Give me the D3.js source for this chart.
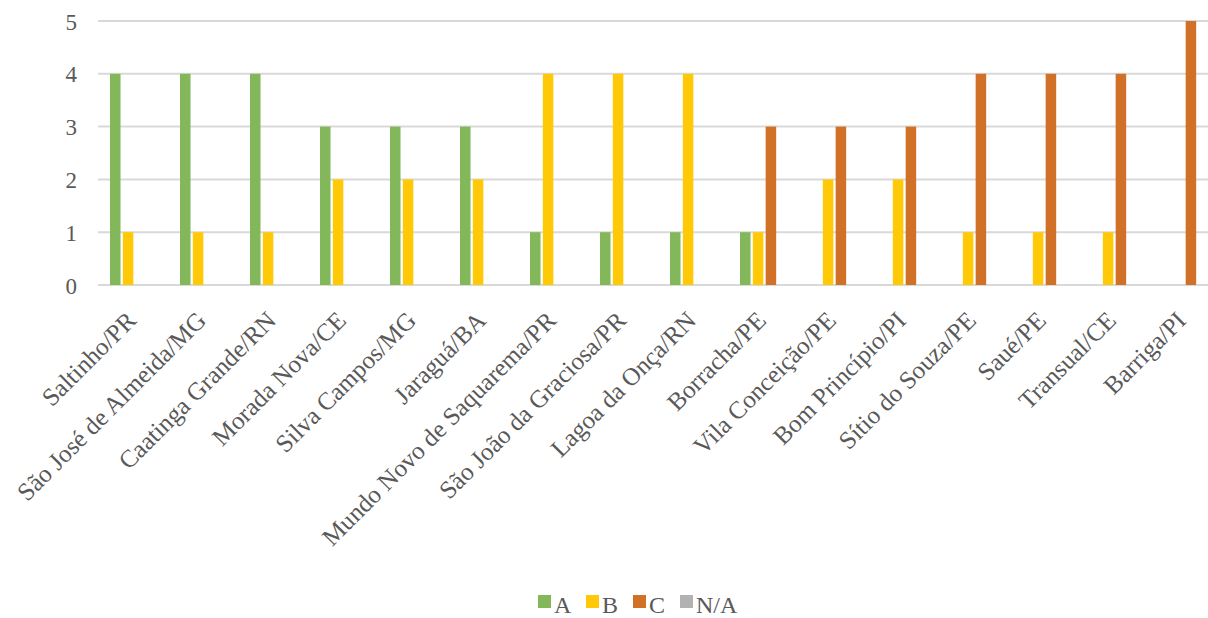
<!DOCTYPE html>
<html>
<head>
<meta charset="utf-8">
<script src="https://cdn.jsdelivr.net/npm/d3@7"></script>
<style>
  html, body { margin: 0; padding: 0; background: #fff; }
  svg { display: block; }
  text { font-family: "Liberation Serif", "DejaVu Serif", serif; fill: #595959; }
</style>
</head>
<body>
<svg id="chart" width="1208" height="618"></svg>
<script>
// Communities on the x axis
const categories = [
  "Saltinho/PR", "São José de Almeida/MG", "Caatinga Grande/RN", "Morada Nova/CE",
  "Silva Campos/MG", "Jaraguá/BA", "Mundo Novo de Saquarema/PR", "São João da Graciosa/PR",
  "Lagoa da Onça/RN", "Borracha/PE", "Vila Conceição/PE", "Bom Princípio/PI",
  "Sítio do Souza/PE", "Saué/PE", "Transual/CE", "Barriga/PI"
];
// Counts per class
const seriesNames = ["A", "B", "C", "N/A"];
const valuesA  = [4, 4, 4, 3, 3, 3, 1, 1, 1, 1, 0, 0, 0, 0, 0, 0];
const valuesB  = [1, 1, 1, 2, 2, 2, 4, 4, 4, 1, 2, 2, 1, 1, 1, 0];
const valuesC  = [0, 0, 0, 0, 0, 0, 0, 0, 0, 3, 3, 3, 4, 4, 4, 5];
const valuesNA = [0, 0, 0, 0, 0, 0, 0, 0, 0, 0, 0, 0, 0, 0, 0, 0];
const yTicks = [0, 1, 2, 3, 4, 5];
const colors = ["#82b75a", "#ffc907", "#d17127", "#b2b2b2"];

const seriesValues = [valuesA, valuesB, valuesC, valuesNA];
const rows = categories.map((c, i) => ({
  category: c,
  values: seriesNames.map((s, k) => ({ key: s, value: seriesValues[k][i], color: colors[k] }))
}));

const svg = d3.select("#chart");
const plot = { left: 99.5, right: 1219.5, top: 21, bottom: 285 };

const x0 = d3.scaleBand()
  .domain(categories)
  .range([plot.left, plot.right])
  .paddingInner(0.3)
  .paddingOuter(0.15);

const x1 = d3.scaleBand()
  .domain(seriesNames)
  .range([0, x0.bandwidth()])
  .paddingInner(0.18);

const y = d3.scaleLinear().domain([0, 5]).range([plot.bottom, plot.top]);

// Horizontal gridlines
svg.append("g")
  .selectAll("line")
  .data(yTicks)
  .join("line")
  .attr("x1", 98).attr("x2", 1208)
  .attr("y1", d => y(d)).attr("y2", d => y(d))
  .attr("stroke", "#d9d9d9")
  .attr("stroke-width", 2);

// Y axis labels
const yAxis = d3.axisLeft(y).tickValues(yTicks).tickSize(0).tickPadding(0).tickFormat(d3.format("d"));
svg.append("g")
  .attr("transform", "translate(77,0)")
  .call(yAxis)
  .call(g => g.select(".domain").remove())
  .call(g => g.selectAll("text")
    .attr("font-size", 23)
    .attr("dy", "0.35em")
    .style("font-family", "'Liberation Serif', serif")
    .attr("fill", "#595959"));

// Bars
const groups = svg.append("g")
  .selectAll("g")
  .data(rows)
  .join("g")
  .attr("transform", d => `translate(${x0(d.category)},0)`);

groups.selectAll("rect")
  .data(d => d.values.filter(v => v.value > 0))
  .join("rect")
  .attr("x", d => x1(d.key))
  .attr("width", x1.bandwidth())
  .attr("y", d => y(d.value))
  .attr("height", d => y(0) - y(d.value))
  .attr("fill", d => d.color);

// Category labels, rotated
const xAxis = d3.axisBottom(x0).tickSize(0).tickPadding(0);
svg.append("g")
  .attr("transform", `translate(0,${plot.bottom})`)
  .call(xAxis)
  .call(g => g.select(".domain").remove())
  .call(g => g.selectAll("text")
    .attr("font-size", 25)
    .attr("text-anchor", "end")
    .attr("dy", 0)
    .attr("y", 0)
    .attr("transform", "translate(3,37) rotate(-45)")
    .style("font-family", "'Liberation Serif', serif")
    .attr("fill", "#595959"));

// Legend
const legendX = [538, 586, 633, 680];
const legend = svg.append("g")
  .selectAll("g")
  .data(seriesNames)
  .join("g")
  .attr("transform", (d, i) => `translate(${legendX[i]},595)`);
legend.append("rect")
  .attr("width", 13).attr("height", 13)
  .attr("fill", (d, i) => colors[i]);
legend.append("text")
  .attr("x", 16).attr("y", 17.5)
  .attr("font-size", 24)
  .text(d => d);
</script>
</body>
</html>
